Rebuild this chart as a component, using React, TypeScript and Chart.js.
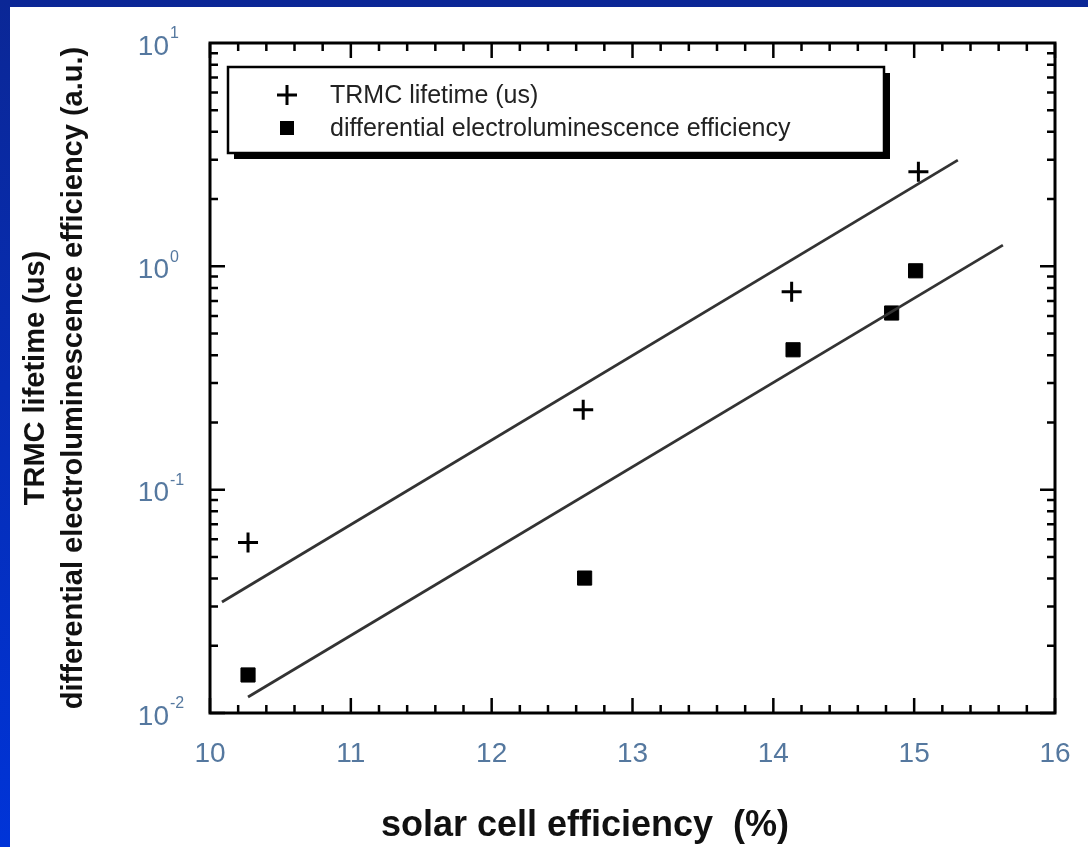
import { useEffect, useRef } from 'react';
import { Chart, registerables } from 'chart.js';

Chart.register(...registerables);

// ---- data ----
const trmcEfficiency = [10.27, 12.65, 14.13, 15.03];
const trmcLifetime = [0.058, 0.228, 0.77, 2.65];
const elEfficiency = [10.27, 12.66, 14.14, 14.84, 15.01];
const elValue = [0.0148, 0.0402, 0.423, 0.618, 0.955];
const trmcFitX = [10.085, 15.31];
const trmcFitY = [0.0314, 2.99];
const elFitX = [10.27, 15.63];
const elFitY = [0.0118, 1.245];
const xTicks = [10, 11, 12, 13, 14, 15, 16];
const yTicks = [0.01, 0.1, 1, 10];
const yTickExponents = ['-2', '-1', '0', '1'];
const legendLabels = ['TRMC lifetime (us)', 'differential electroluminescence efficiency'];
const xTitle = 'solar cell efficiency  (%)';
const yTitle = ['TRMC lifetime (us)', 'differential electroluminescence efficiency (a.u.)'];

const FONT = "'Liberation Sans', Arial, Helvetica, sans-serif";
const TICK_COLOR = '#55789f';

const toPoints = (xs: number[], ys: number[]) => xs.map((x, i) => ({ x, y: ys[i] }));

export default function App() {
  const ref = useRef<HTMLCanvasElement>(null);

  useEffect(() => {
    const framePlugin = {
      id: 'framePlugin',
      afterDatasetsDraw(chart: any) {
        const { ctx, chartArea: a, scales } = chart;
        const xs = scales.x;
        const ys = scales.y;
        ctx.save();
        ctx.strokeStyle = '#000';
        ctx.lineCap = 'butt';
        // ticks
        ctx.lineWidth = 2.5;
        for (let i = 0; i <= 30; i++) {
          const v = 10 + i * 0.2;
          const px = xs.getPixelForValue(v);
          const len = i % 5 === 0 ? 15 : 8;
          ctx.beginPath();
          ctx.moveTo(px, a.bottom);
          ctx.lineTo(px, a.bottom - len);
          ctx.moveTo(px, a.top);
          ctx.lineTo(px, a.top + len);
          ctx.stroke();
        }
        for (let d = -2; d <= 0; d++) {
          for (let m = 1; m <= 9; m++) {
            const v = m * Math.pow(10, d);
            const py = ys.getPixelForValue(v);
            const len = m === 1 ? 15 : 8;
            ctx.beginPath();
            ctx.moveTo(a.left, py);
            ctx.lineTo(a.left + len, py);
            ctx.moveTo(a.right, py);
            ctx.lineTo(a.right - len, py);
            ctx.stroke();
          }
        }
        // frame
        ctx.lineWidth = 3;
        ctx.strokeRect(a.left, a.top, a.right - a.left, a.bottom - a.top);

        // y tick labels with superscripts
        ctx.fillStyle = TICK_COLOR;
        yTicks.forEach((v, i) => {
          const py = ys.getPixelForValue(v);
          ctx.font = `28px ${FONT}`;
          ctx.textAlign = 'right';
          ctx.textBaseline = 'middle';
          ctx.fillText('10', a.left - 41, py + 4);
          ctx.font = `16px ${FONT}`;
          ctx.textAlign = 'left';
          ctx.fillText(yTickExponents[i], a.left - 40, py - 9);
        });

        // legend box
        const bx = 228, by = 67, bw = 656, bh = 86;
        ctx.fillStyle = '#000';
        ctx.fillRect(bx + 6, by + 6, bw, bh);
        ctx.fillStyle = '#fff';
        ctx.fillRect(bx, by, bw, bh);
        ctx.lineWidth = 2.5;
        ctx.strokeRect(bx, by, bw, bh);
        // legend markers
        ctx.lineWidth = 3;
        ctx.beginPath();
        ctx.moveTo(287 - 10, 95);
        ctx.lineTo(287 + 10, 95);
        ctx.moveTo(287, 95 - 10);
        ctx.lineTo(287, 95 + 10);
        ctx.stroke();
        ctx.fillStyle = '#000';
        ctx.fillRect(287 - 7, 128 - 7, 14, 14);
        // legend text
        ctx.fillStyle = '#222';
        ctx.font = `25px ${FONT}`;
        ctx.textAlign = 'left';
        ctx.textBaseline = 'middle';
        ctx.fillText(legendLabels[0], 330, 96, 240);
        ctx.fillText(legendLabels[1], 330, 129, 512);

        // x title
        ctx.fillStyle = '#111';
        ctx.font = `bold 36px ${FONT}`;
        ctx.textAlign = 'center';
        ctx.textBaseline = 'middle';
        ctx.fillText(xTitle, 585, 826);
        ctx.restore();
      },
    };

    const chart = new Chart(ref.current as HTMLCanvasElement, {
      type: 'scatter',
      data: {
        datasets: [
          {
            type: 'line',
            label: 'TRMC fit',
            data: toPoints(trmcFitX, trmcFitY),
            borderColor: '#333333',
            borderWidth: 2.8,
            pointRadius: 0,
            fill: false,
          } as any,
          {
            type: 'line',
            label: 'EL fit',
            data: toPoints(elFitX, elFitY),
            borderColor: '#333333',
            borderWidth: 2.8,
            pointRadius: 0,
            fill: false,
          } as any,
          {
            label: legendLabels[0],
            data: toPoints(trmcEfficiency, trmcLifetime),
            pointStyle: 'cross',
            pointRadius: 10,
            pointBorderWidth: 3,
            borderColor: '#000',
            backgroundColor: '#000',
          },
          {
            label: legendLabels[1],
            data: toPoints(elEfficiency, elValue),
            pointStyle: 'rect',
            pointRadius: 10,
            pointBorderWidth: 1,
            borderColor: '#000',
            backgroundColor: '#000',
          },
        ],
      },
      options: {
        animation: false,
        responsive: false,
        maintainAspectRatio: false,
        layout: { padding: { left: 0, top: 43, right: 33, bottom: 0 } },
        plugins: {
          legend: { display: false },
          tooltip: { enabled: false },
        },
        scales: {
          x: {
            type: 'linear',
            min: 10,
            max: 16,
            afterFit: (s: any) => {
              s.height = 134;
              s.paddingLeft = 0;
              s.paddingRight = 0;
            },
            afterBuildTicks: (s: any) => {
              s.ticks = xTicks.map((v) => ({ value: v }));
            },
            grid: { display: false, drawTicks: false },
            border: { display: false },
            ticks: {
              font: { family: FONT, size: 28 },
              color: TICK_COLOR,
              padding: 24,
              maxRotation: 0,
              autoSkip: false,
            },
          },
          y: {
            type: 'logarithmic',
            min: 0.01,
            max: 10,
            afterFit: (s: any) => {
              s.width = 210;
              s.paddingTop = 0;
              s.paddingBottom = 0;
            },
            afterBuildTicks: (s: any) => {
              s.ticks = yTicks.map((v) => ({ value: v }));
            },
            grid: { display: false, drawTicks: false },
            border: { display: false },
            ticks: { display: false },
            title: {
              display: true,
              text: yTitle,
              color: '#111',
              font: { family: FONT, size: 29, weight: 'bold', lineHeight: 1.3 },
              padding: { top: 17, bottom: 0 },
            },
          },
        },
      } as any,
      plugins: [framePlugin],
    });
    return () => chart.destroy();
  }, []);

  return (
    <div
      style={{
        position: 'fixed',
        left: 0,
        top: 0,
        width: 1088,
        height: 847,
        background: 'linear-gradient(to bottom, #0b2796, #0034d8)',
        overflow: 'hidden',
      }}
    >
      <div
        style={{
          position: 'absolute',
          left: 10,
          top: 7,
          width: 1078,
          height: 840,
          background: '#ffffff',
        }}
      />
      <canvas
        ref={ref}
        width={1088}
        height={847}
        style={{ position: 'absolute', left: 0, top: 0, width: 1088, height: 847 }}
      />
    </div>
  );
}
